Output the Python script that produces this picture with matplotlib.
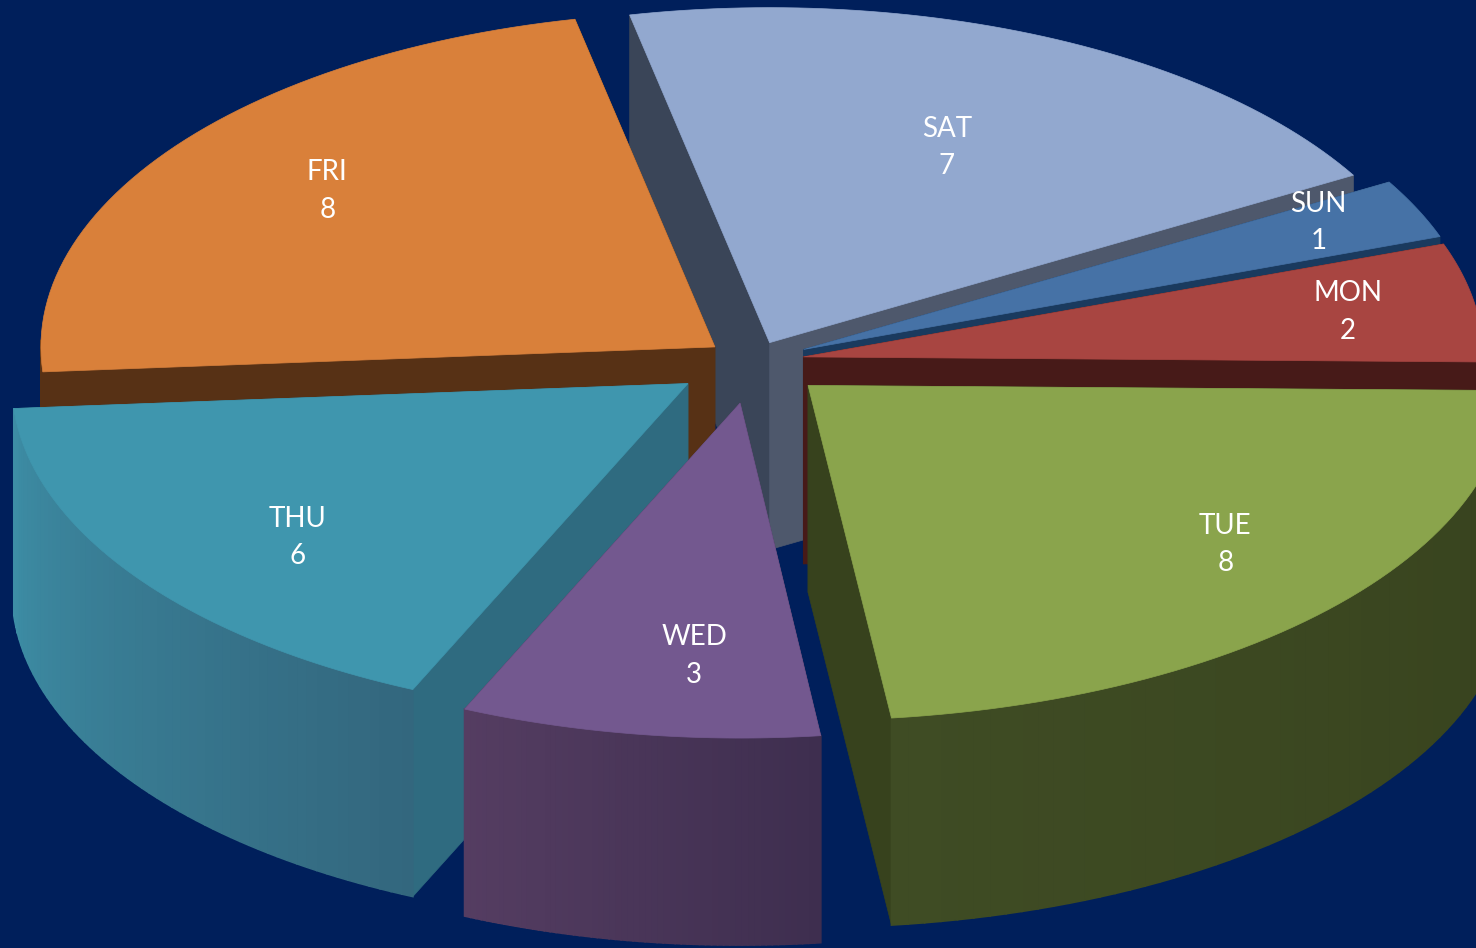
import numpy as np
import matplotlib
matplotlib.use("Agg")
import matplotlib.pyplot as plt
from matplotlib.colors import to_rgb
from matplotlib.patches import Polygon

plt.rcParams["font.family"] = ["Lato", "DejaVu Sans"]

# data, in the order of the chart (clockwise)
days = ["MON", "TUE", "WED", "THU", "FRI", "SAT", "SUN"]
values = [2, 8, 3, 6, 8, 7, 1]

# style of each slice
top_cols = ["#a84541", "#8aa44c", "#73588f", "#3f96ae", "#d9803a", "#92a8cf", "#4672a6"]
start_wall = ["#471a18", "#37421d", "#3e2e4f", "#2f6b80", "#573115", "#3a4558", "#1a3a5e"]
end_wall = ["#471a18", "#37421d", "#3e2e4f", "#2f6b80", "#573115", "#4e586c", "#1a3a5e"]
outer_left = ["#471a18", "#3f4c24", "#553d62", "#3d8ea6", "#573115", "#3a4558", "#1a3a5e"]
outer_right = ["#471a18", "#37421d", "#3e2e4f", "#33677e", "#573115", "#3a4558", "#1a3a5e"]
explode = [0.075, 0.109, 0.127, 0.117, 0.07, 0.06, 0.082]
slice_rx = [680, 700, 677, 676, 674, 674, 676]
# label offset from the slice tip, as a fraction of the radii
label_x = [0.801, 0.596, -0.068, -0.578, -0.575, 0.263, 0.762]
label_y = [0.143, -0.466, -0.746, -0.451, 0.475, 0.591, 0.388]
draw_order = [5, 4, 6, 0, 1, 3, 2]

bg = "#001f5b"
cx, cy = 753, 361
rx, ry = 680, 335
depth = 207
first_angle = 19.7

fig = plt.figure(figsize=(14.76, 9.48), dpi=100, facecolor=bg)
ax = fig.add_axes([0, 0, 1, 1])
ax.set_xlim(0, 1476)
ax.set_ylim(948, 0)
ax.axis("off")


def mix(c1, c2, t):
    return tuple((1 - t) * a + t * b for a, b in zip(to_rgb(c1), to_rgb(c2)))


def wall(p, q, color, z, lw=0.5):
    pts = [p, q, (q[0], q[1] + depth), (p[0], p[1] + depth)]
    ax.add_patch(Polygon(pts, closed=True, fc=color, ec=color, lw=lw, zorder=z))


total = sum(values)
sweeps = np.array(values) / total * 360
starts = first_angle - np.concatenate([[0], np.cumsum(sweeps)[:-1]])

for z, i in enumerate(draw_order):
    a0, a1 = starts[i], starts[i] - sweeps[i]
    mid = np.radians((a0 + a1) / 2)
    apex = (cx + explode[i] * rx * np.cos(mid), cy - explode[i] * ry * np.sin(mid))
    z0 = z * 10
    angs = np.linspace(a0, a1, 61)
    rad = np.radians(angs)
    arc = np.column_stack([apex[0] + slice_rx[i] * np.cos(rad), apex[1] - ry * np.sin(rad)])

    # side walls going down from the centre
    wall(apex, arc[0], start_wall[i], z0)
    wall(apex, arc[-1], end_wall[i], z0 + 1)

    # outer wall, only the part that faces the viewer
    n = len(arc) - 1
    for k in range(n):
        if np.sin(rad[k]) > 0.02:
            continue
        # angles run clockwise, so k=0 is the right hand end of the front wall
        c = mix(outer_left[i], outer_right[i], 1 - k / n)
        wall(arc[k], arc[k + 1], c, z0 + 2, lw=1.2)

    # top of the slice
    ax.add_patch(Polygon(np.vstack([[apex], arc]), closed=True, fc=top_cols[i],
                         ec=top_cols[i], lw=0.5, zorder=z0 + 3))

    lx = apex[0] + label_x[i] * slice_rx[i]
    ly = apex[1] - label_y[i] * ry + 3
    ax.text(lx, ly, f"{days[i]}\n{values[i]}", color="white", fontsize=20,
            ha="center", va="center", linespacing=1.55, zorder=200)

fig.savefig("out.png", dpi=100, facecolor=bg)
